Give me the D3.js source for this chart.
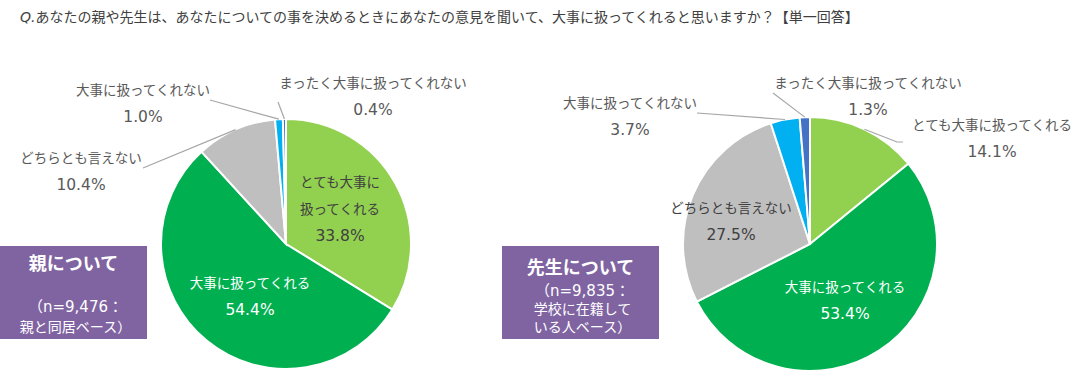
<!DOCTYPE html>
<html lang="ja">
<head>
<meta charset="utf-8">
<title>意見を大事に扱ってくれるか</title>
<style>
    body { margin: 0; background: #fff; }
    svg { display: block; font-family: "DejaVu Sans", "Noto Sans CJK JP", sans-serif; }
</style>
</head>
<body>
<svg id="chart" width="1084" height="389"></svg>
<script src="https://cdn.jsdelivr.net/npm/d3@7"></script>
<script>
// data
const categories = ["とても大事に扱ってくれる", "大事に扱ってくれる", "どちらとも言えない", "大事に扱ってくれない", "まったく大事に扱ってくれない"];
const parentValues = [33.8, 54.4, 10.4, 1.0, 0.4];
const teacherValues = [14.1, 53.4, 27.5, 3.7, 1.3];
const parentBox = ["親について", "（n=9,476：", "親と同居ベース）"];
const teacherBox = ["先生について", "（n=9,835：", "学校に在籍して", "いる人ベース）"];
const title = "Q.あなたの親や先生は、あなたについての事を決めるときにあなたの意見を聞いて、大事に扱ってくれると思いますか？【単一回答】";

const colors = d3.scaleOrdinal()
    .domain(categories)
    .range(["#92d050", "#00b050", "#bfbfbf", "#00b0f0", "#4472c4"]);

const svg = d3.select("#chart");

const titleText = svg.append("text")
    .attr("x", 20).attr("y", 22)
    .attr("font-size", 14)
    .attr("fill", "#404040");
titleText.append("tspan").attr("font-style", "italic").text(title.slice(0, 2));
titleText.append("tspan").text(title.slice(2));

// label layout per pie: [dx, dy] from pie center, leader start if outside
const parentLayout = [
    {lines: ["とても大事に", "扱ってくれる"], x: 54, y: -62, fill: "#404040"},
    {lines: ["大事に扱ってくれる"], x: -36, y: 39, fill: "#ffffff"},
    {lines: ["どちらとも言えない"], x: -205, y: -86, fill: "#595959", lead: [-143, -76]},
    {lines: ["大事に扱ってくれない"], x: -143, y: -154, fill: "#595959", lead: [-76, -144]},
    {lines: ["まったく大事に扱ってくれない"], x: 87, y: -161, fill: "#595959", lead: [-8, -142]}
];
const teacherLayout = [
    {lines: ["とても大事に扱ってくれる"], x: 182, y: -119, fill: "#595959", lead: [87, -102], tail: 6},
    {lines: ["大事に扱ってくれる"], x: 35, y: 43, fill: "#ffffff"},
    {lines: ["どちらとも言えない"], x: -79, y: -36, fill: "#404040"},
    {lines: ["大事に扱ってくれない"], x: -180, y: -141, fill: "#595959", lead: [-113, -131]},
    {lines: ["まったく大事に扱ってくれない"], x: 58, y: -161, fill: "#595959", lead: [-37, -151]}
];

function drawPie(values, layout, cx, cy, r) {
    const g = svg.append("g").attr("transform", `translate(${cx},${cy})`);
    const pie = d3.pie().sort(null).value(d => d.v);
    const arcs = pie(values.map((v, i) => ({v: v, c: categories[i]})));
    const arc = d3.arc().innerRadius(0).outerRadius(r);
    const edge = d3.arc().innerRadius(r).outerRadius(r);

    g.selectAll("path.slice")
        .data(arcs)
        .join("path")
        .attr("class", "slice")
        .attr("d", arc)
        .attr("fill", d => colors(d.data.c))
        .attr("stroke", "#fff")
        .attr("stroke-width", 2);

    arcs.forEach((a, i) => {
        const lay = layout[i];
        if (lay.lead) {
            const pts = [lay.lead, edge.centroid(a)];
            if (lay.tail) pts.unshift([lay.lead[0] + lay.tail, lay.lead[1]]);
            g.append("path")
                .attr("d", d3.line()(pts))
                .attr("fill", "none")
                .attr("stroke", "#a6a6a6")
                .attr("stroke-width", 1.2);
        }
        const lines = lay.lines.concat([a.data.v.toFixed(1) + "%"]);
        const t = g.append("text")
            .attr("text-anchor", "middle")
            .attr("font-size", 13.5)
            .attr("fill", lay.fill);
        lines.forEach((s, k) => {
            t.append("tspan")
                .attr("x", lay.x)
                .attr("y", lay.y + k * 27 + 5)
                .attr("font-size", k === lines.length - 1 ? 15.5 : null)
                .text(s);
        });
    });
}

drawPie(parentValues, parentLayout, 286, 244, 125);
drawPie(teacherValues, teacherLayout, 810, 244, 127);

function drawBox(lines, x, w, ys) {
    svg.append("rect")
        .attr("x", x).attr("y", 246)
        .attr("width", w).attr("height", 93)
        .attr("fill", "#8064a2");
    svg.append("text")
        .attr("x", x + w / 2)
        .attr("y", ys[0])
        .attr("text-anchor", "middle")
        .attr("fill", "#fff")
        .attr("font-size", 18)
        .attr("font-weight", "bold")
        .text(lines[0]);
    const t = svg.append("text")
        .attr("text-anchor", "middle")
        .attr("fill", "#fff")
        .attr("font-size", 14);
    lines.slice(1).forEach((s, k) => {
        t.append("tspan")
            .attr("x", x + w / 2 + 2)
            .attr("y", ys[k + 1])
            .attr("font-size", k === 0 ? 15 : null)
            .text(s);
    });
}

drawBox(parentBox, 0, 147, [270, 312, 332]);
drawBox(teacherBox, 502, 157, [274, 296, 314, 332]);
</script>
</body>
</html>
